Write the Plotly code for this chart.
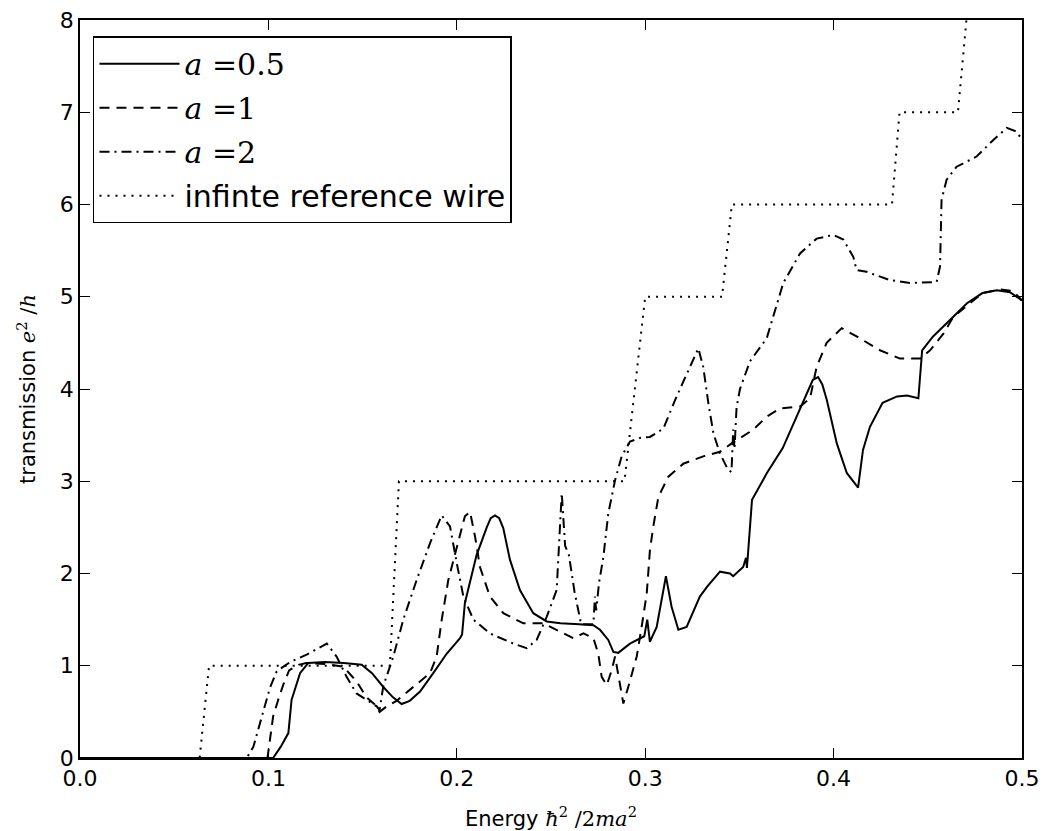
import plotly.graph_objects as go

# ---- data ----
x_a05 = [0, 0.1025, 0.1065, 0.1106, 0.1123, 0.1168, 0.1212, 0.13, 0.14, 0.1495, 0.155, 0.161, 0.166, 0.1707,
         0.175, 0.1805, 0.1875, 0.1946, 0.2017, 0.2028, 0.2043, 0.2105, 0.2159, 0.218, 0.2203, 0.2225, 0.2247,
         0.2265, 0.2282, 0.2335, 0.2406, 0.2477, 0.255, 0.265, 0.2725, 0.276, 0.2804, 0.2831, 0.2857, 0.2919,
         0.2972, 0.2995, 0.3011, 0.3025, 0.3061, 0.3085, 0.311, 0.314, 0.3176, 0.322, 0.329, 0.333, 0.3397,
         0.345, 0.3467, 0.352, 0.3535, 0.354, 0.3567, 0.3625, 0.3646, 0.373, 0.382, 0.389, 0.3918, 0.394,
         0.3964, 0.4017, 0.407, 0.413, 0.4156, 0.4193, 0.426, 0.4337, 0.439, 0.445, 0.447, 0.4528, 0.4634,
         0.4708, 0.479, 0.4867, 0.4936, 0.5]
y_a05 = [0, 0, 0.12, 0.27, 0.63, 0.92, 1.03, 1.04, 1.03, 1.01, 0.92, 0.77, 0.66, 0.585,
         0.62, 0.72, 0.92, 1.13, 1.3, 1.34, 1.68, 2.2, 2.5, 2.6, 2.63, 2.6, 2.49,
         2.33, 2.15, 1.82, 1.57, 1.48, 1.46, 1.45, 1.44, 1.39, 1.28, 1.15, 1.14, 1.24,
         1.30, 1.32, 1.5, 1.26, 1.42, 1.7, 1.97, 1.64, 1.39, 1.42, 1.75, 1.86, 2.02,
         2.0, 1.97, 2.07, 2.17, 2.06, 2.8, 3.01, 3.09, 3.36, 3.77, 4.1, 4.13, 4.05,
         3.88, 3.41, 3.09, 2.93, 3.34, 3.59, 3.85, 3.92, 3.93, 3.9, 4.42, 4.57, 4.78,
         4.93, 5.04, 5.07, 5.05, 4.96]

x_a1 = [0, 0.0995, 0.1005, 0.1025, 0.1055, 0.108, 0.111, 0.116, 0.12, 0.13, 0.1398, 0.1468, 0.152, 0.1575,
        0.159, 0.1628, 0.168, 0.177, 0.1858, 0.1893, 0.192, 0.1955, 0.2008, 0.2043, 0.207, 0.2097, 0.2123,
        0.2176, 0.2247, 0.2353, 0.2459, 0.253, 0.2618, 0.2672, 0.2725, 0.2751, 0.2769, 0.2796, 0.2822, 0.284,
        0.2866, 0.2884, 0.291, 0.2955, 0.2981, 0.3008, 0.3025, 0.3043, 0.307, 0.3123, 0.3202, 0.3308, 0.3397,
        0.3459, 0.3574, 0.3645, 0.3715, 0.3822, 0.3875, 0.391, 0.3963, 0.4043, 0.4122, 0.4246, 0.4352, 0.4459,
        0.4512, 0.4583, 0.4635, 0.479, 0.4883, 0.4954, 0.5]
y_a1 = [0, 0, 0.15, 0.45, 0.65, 0.8, 0.95, 1.01, 1.03, 1.02, 0.99, 0.83, 0.66, 0.56,
        0.5, 0.56, 0.62, 0.77, 0.92, 1.1, 1.5, 1.93, 2.36, 2.62, 2.67, 2.4, 2.07,
        1.75, 1.57, 1.46, 1.46, 1.39, 1.3, 1.35, 1.3, 1.13, 0.88, 0.79, 0.95, 1.1,
        0.81, 0.59, 0.77, 1.1, 1.42, 1.78, 2.25, 2.51, 2.83, 3.05, 3.19, 3.27, 3.32,
        3.41, 3.56, 3.7, 3.79, 3.81, 3.9, 4.24, 4.5, 4.66, 4.57, 4.42, 4.33, 4.33,
        4.42, 4.6, 4.78, 5.04, 5.08, 5.06, 4.96]

x_a2 = [0, 0.0885, 0.092, 0.0964, 0.1008, 0.1044, 0.1115, 0.1203, 0.131, 0.1362, 0.1415, 0.1468, 0.152,
        0.1575, 0.159, 0.161, 0.1663, 0.1716, 0.1787, 0.1858, 0.192, 0.1964, 0.2, 0.2035, 0.2088, 0.2176,
        0.23, 0.2371, 0.2424, 0.2477, 0.253, 0.2557, 0.2575, 0.2595, 0.2625, 0.266, 0.2725, 0.2733, 0.274,
        0.2755, 0.2778, 0.2804, 0.284, 0.2875, 0.2919, 0.2972, 0.3025, 0.3096, 0.3167, 0.3229, 0.3282, 0.3308,
        0.3335, 0.3362, 0.3397, 0.3441, 0.3458, 0.3467, 0.3474, 0.3485, 0.3503, 0.3556, 0.3645, 0.3733,
        0.3822, 0.391, 0.3998, 0.4052, 0.4105, 0.4122, 0.4175, 0.4299, 0.4406, 0.4547, 0.4565, 0.4573, 0.46,
        0.4653, 0.4759, 0.4848, 0.4919, 0.4972, 0.5]
y_a2 = [0, 0, 0.12, 0.45, 0.76, 0.94, 1.04, 1.12, 1.24, 1.1, 0.88, 0.7, 0.63,
        0.56, 0.52, 0.78, 1.1, 1.5, 1.93, 2.33, 2.63, 2.51, 2.11, 1.75, 1.5, 1.35,
        1.24, 1.19, 1.28, 1.53, 1.82, 2.87, 2.3, 2.2, 1.8, 1.45, 1.45, 1.75, 1.6,
        1.9, 2.18, 2.65, 3.01, 3.27, 3.43, 3.47, 3.48, 3.57, 3.92, 4.21, 4.44, 4.24,
        3.85, 3.52, 3.3, 3.12, 3.1, 3.56, 3.35, 3.8, 4.0, 4.3, 4.55, 5.15,
        5.47, 5.63, 5.67, 5.62, 5.43, 5.29, 5.27, 5.18, 5.15, 5.16, 5.33, 6.05, 6.27,
        6.41, 6.52, 6.7, 6.83, 6.79, 6.7]

x_ref = [0, 0.0635, 0.0685, 0.1645, 0.1693, 0.289, 0.300, 0.3408, 0.346, 0.431, 0.435, 0.466, 0.4705, 0.472, 0.5]
y_ref = [0, 0, 1, 1, 3, 3, 5, 5, 6, 6, 7, 7, 8, 9, 9]

x_ticks = [0.0, 0.1, 0.2, 0.3, 0.4, 0.5]
y_ticks = [0, 1, 2, 3, 4, 5, 6, 7, 8]

for xs, ys in [(x_a05, y_a05), (x_a1, y_a1), (x_a2, y_a2), (x_ref, y_ref)]:
    assert len(xs) == len(ys), (len(xs), len(ys))

SERIF = "DejaVu Serif"
def math(s):
    return f'<span style="font-family:{SERIF}">{s}</span>'

series = [
    (x_a05, y_a05, math("<i>a</i> =0.5"), "solid"),
    (x_a1, y_a1, math("<i>a</i> =1"), "10px,7px"),
    (x_a2, y_a2, math("<i>a</i> =2"), "10px,5px,2px,5px"),
    (x_ref, y_ref, "infinte reference wire", "2px,6px"),
]

fig = go.Figure()
for i, (xs, ys, name, dash) in enumerate(series):
    fig.add_trace(go.Scatter(
        x=xs, y=ys, mode="lines", name=name, legendgroup=f"g{i}",
        line=dict(color="black", width=2, dash=dash),
    ))

axis_common = dict(
    showline=True, linecolor="black", linewidth=1.5, mirror="ticks",
    ticks="inside", ticklen=10, tickwidth=1, tickcolor="black",
    showgrid=False, zeroline=False, automargin=False,
    tickfont=dict(family="DejaVu Sans", size=22, color="black"),
)

fig.update_layout(
    width=1045, height=831,
    margin=dict(l=80, r=23, t=20, b=73),
    paper_bgcolor="white", plot_bgcolor="white",
    font=dict(family="DejaVu Sans", color="black"),
    showlegend=True,
    legend=dict(
        x=0.0138, y=0.978, xanchor="left", yanchor="top",
        bgcolor="white", bordercolor="black", borderwidth=1.5,
        font=dict(family="DejaVu Sans", size=30, color="black"),
        tracegroupgap=2, traceorder="grouped", itemwidth=80,
    ),
    xaxis=dict(
        range=[0, 0.5], tickvals=x_ticks, ticktext=[f"{v:.1f}" for v in x_ticks],
        title=dict(text="Energy " + math("<i>ħ</i><sup>2</sup> /2<i>ma</i><sup>2</sup>"),
                   font=dict(size=21), standoff=22),
        **axis_common,
    ),
    yaxis=dict(
        range=[0, 8], tickvals=y_ticks, ticktext=[str(v) for v in y_ticks],
        title=dict(text="transmission " + math("<i>e</i><sup>2</sup> /<i>h</i>"),
                   font=dict(size=21), standoff=18),
        **axis_common,
    ),
)

fig.write_html("out.html")
